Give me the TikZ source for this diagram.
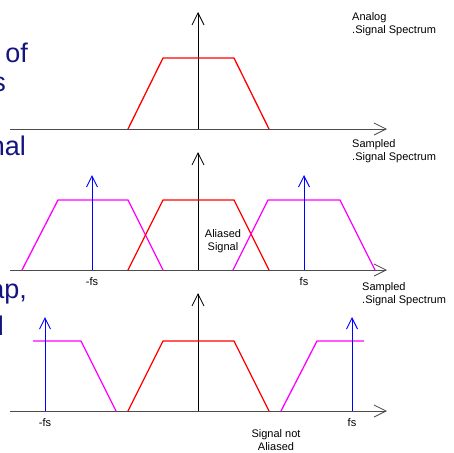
\documentclass[tikz,border=0pt]{standalone}
\usepackage{fontspec}
\setmainfont{Liberation Sans}
\usepackage{xcolor}
\usetikzlibrary{arrows.meta}
\definecolor{slideblue}{RGB}{20,20,128}
\definecolor{pink}{RGB}{255,0,255}

\begin{document}
\begin{tikzpicture}[x=1pt,y=-1pt,
  axis/.style={draw=black!70,line width=0.8pt,-{Straight Barb[length=12pt,width=12pt]}},
  vaxis/.style={axis,draw=black},
  base/.style={draw=red,line width=1.3pt},
  alias/.style={draw=pink,line width=1.3pt},
  delta/.style={draw=blue,line width=1pt,-{Straight Barb[length=11pt,width=11pt]}},
  lbl/.style={font=\fontsize{11}{13}\selectfont,inner sep=0pt,align=center},
  note/.style={lbl,align=left,anchor=north west},
  slide/.style={font=\fontsize{27}{32}\selectfont,text=slideblue,inner sep=0pt,anchor=base east}]
\useasboundingbox (0,0) rectangle (453,453);
% analog spectrum
\draw[axis] (10,129) -- (387,129);
\draw[vaxis] (198,129) -- (198,12);
\draw[base] (128,129) -- (163,58) -- (234,58) -- (269,129);
% sampled, aliased
\draw[axis] (10,270) -- (387,270);
\draw[vaxis] (198,270) -- (198,152);
\draw[alias] (22,270) -- (58,200) -- (128,200) -- (163,270);
\draw[base] (128,270) -- (163,200) -- (234,200) -- (269,270);
\draw[alias] (233,270) -- (268,200) -- (340,200) -- (375,270);
\draw[delta] (92,270) -- (92,175);
\draw[delta] (304,270) -- (304,175);
% sampled, not aliased
\draw[axis] (10,411) -- (387,411);
\draw[vaxis] (198,411) -- (198,293);
\draw[alias] (33,341) -- (81,341) -- (116,411);
\draw[base] (128,411) -- (163,341) -- (234,341) -- (269,411);
\draw[alias] (281,411) -- (317,341) -- (364,341);
\draw[delta] (45,411) -- (45,317);
\draw[delta] (352,411) -- (352,317);
% labels
\node[lbl] (nfsa) at (92,282) {-fs};
\node[lbl] (pfsa) at (304,282) {fs};
\node[lbl] (nfsb) at (45,423) {-fs};
\node[lbl] (pfsb) at (352,423) {fs};
\node[lbl] (aliased) at (223,241) {Aliased\\Signal};
\node[lbl] (notaliased) at (276,440) {Signal not\\Aliased};
\node[note] (analog) at (352,12) {Analog\\.Signal Spectrum};
\node[note] (sampleda) at (352,139) {Sampled\\.Signal Spectrum};
\node[note] (sampledb) at (362,282) {Sampled\\.Signal Spectrum};
% slide text cut at the left edge
\node[slide] (of) at (28,62) {of};
\node[slide] (s) at (6,91) {s};
\node[slide] (nal) at (26,155) {nal};
\node[slide] (ap) at (27,298) {ap,};
\node[slide] (l) at (4,335) {l};
\end{tikzpicture}
\end{document}
